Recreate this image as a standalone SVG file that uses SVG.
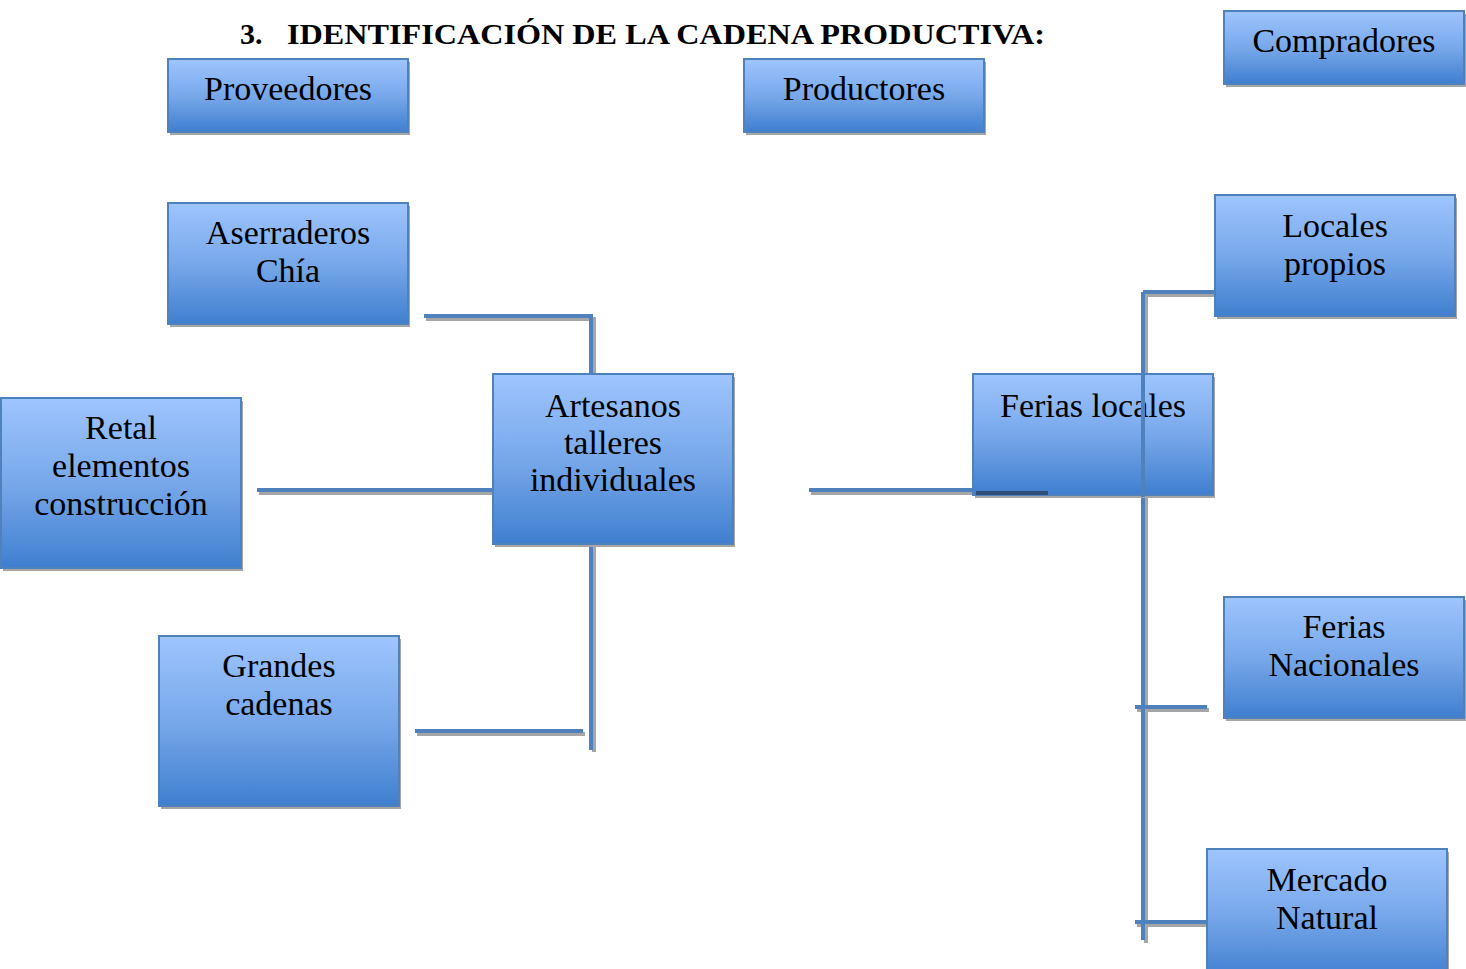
<svg xmlns="http://www.w3.org/2000/svg" width="1466" height="969" viewBox="0 0 1466 969">
<defs>
<linearGradient id="g" x1="0" y1="0" x2="0" y2="1">
<stop offset="0" stop-color="#9ec5fe"/>
<stop offset="0.5" stop-color="#78a8ea"/>
<stop offset="1" stop-color="#3f7fcf"/>
</linearGradient>
</defs>
<style>
.sh{fill:#a6a6a6}
.bx{fill:url(#g);stroke:#4f81bd;stroke-width:2}
.t{font-family:"Liberation Serif",serif;font-size:34px;fill:#000;text-anchor:middle}
.ln{stroke:#4f81bd;stroke-width:4;fill:none}
.ls{stroke:#a6a6a6;stroke-width:4;fill:none}
</style>
<rect width="1466" height="969" fill="#fff"/>
<text x="240" y="44" font-family="Liberation Serif,serif" font-weight="bold" font-size="30" fill="#000">3.</text>
<text x="287" y="44" font-family="Liberation Serif,serif" font-weight="bold" font-size="30" fill="#000" textLength="758" lengthAdjust="spacingAndGlyphs">IDENTIFICACIÓN DE LA CADENA PRODUCTIVA:</text>

<g id="connectors">
<path class="ls" d="M426 319H594V377 M259 493H495 M594 546V752 M417 734H585 M811 493H975 M1145 295H1217 M1146 295V943 M1137 710H1209 M1137 925H1209"/>
<path class="ln" d="M424 316H591V374 M257 490H493 M591 543V750 M415 731H583 M809 490H973 M1143 292H1215 M1143 292V940 M1135 707H1207 M1135 922H1207"/>
</g>

<g id="proveedores"><rect class="sh" x="170" y="62" width="240" height="73"/><rect class="bx" x="168" y="59" width="240" height="73"/><text class="t" x="288" y="100">Proveedores</text></g>
<g id="productores"><rect class="sh" x="746" y="62" width="240" height="73"/><rect class="bx" x="744" y="59" width="240" height="73"/><text class="t" x="864" y="100">Productores</text></g>
<g id="compradores"><rect class="sh" x="1226" y="14" width="240" height="73"/><rect class="bx" x="1224" y="11" width="240" height="73"/><text class="t" x="1344" y="52">Compradores</text></g>
<g id="aserraderos"><rect class="sh" x="170" y="206" width="240" height="121"/><rect class="bx" x="168" y="203" width="240" height="121"/><text class="t" x="288" y="244">Aserraderos</text><text class="t" x="288" y="282">Chía</text></g>
<g id="retal"><rect class="sh" x="3" y="401" width="240" height="170"/><rect class="bx" x="1" y="398" width="240" height="170"/><text class="t" x="121" y="439">Retal</text><text class="t" x="121" y="477">elementos</text><text class="t" x="121" y="515">construcción</text></g>
<g id="grandes"><rect class="sh" x="161" y="639" width="240" height="170"/><rect class="bx" x="159" y="636" width="240" height="170"/><text class="t" x="279" y="677">Grandes</text><text class="t" x="279" y="715">cadenas</text></g>
<g id="artesanos"><rect class="sh" x="495" y="377" width="240" height="170"/><rect class="bx" x="493" y="374" width="240" height="170"/><text class="t" x="613" y="417">Artesanos</text><text class="t" x="613" y="454">talleres</text><text class="t" x="613" y="491">individuales</text></g>
<g id="ferias-locales"><rect class="sh" x="975" y="377" width="240" height="121"/><rect class="bx" x="973" y="374" width="240" height="121"/><text class="t" x="1093" y="417">Ferias locales</text></g>
<g id="locales-propios"><rect class="sh" x="1217" y="198" width="240" height="121"/><rect class="bx" x="1215" y="195" width="240" height="121"/><text class="t" x="1335" y="237">Locales</text><text class="t" x="1335" y="275">propios</text></g>
<g id="ferias-nacionales"><rect class="sh" x="1226" y="600" width="240" height="121"/><rect class="bx" x="1224" y="597" width="240" height="121"/><text class="t" x="1344" y="638">Ferias</text><text class="t" x="1344" y="676">Nacionales</text></g>
<g id="mercado-natural"><rect class="sh" x="1209" y="852" width="240" height="130"/><rect class="bx" x="1207" y="849" width="240" height="130"/><text class="t" x="1327" y="891">Mercado</text><text class="t" x="1327" y="929">Natural</text></g>

<g id="overlay-connectors">
<path d="M1143 374V497" stroke="#4f81bd" stroke-width="4"/>
<path d="M976 493H1048" stroke="#2f4f7a" stroke-width="4"/>
</g>
</svg>
